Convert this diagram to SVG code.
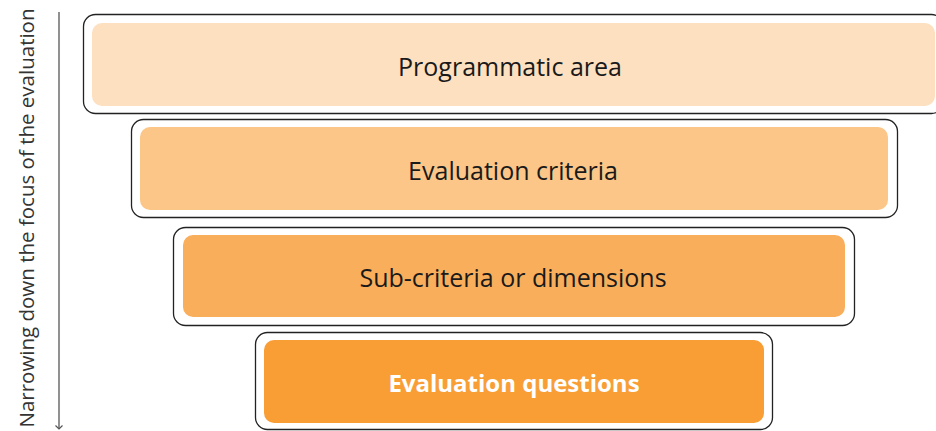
<svg xmlns="http://www.w3.org/2000/svg" width="936" height="431" viewBox="0 0 936 431">
<style>
.outer{fill:#fff;stroke:#222;stroke-width:1.3}
.lbl{font-family:"Open Sans","Liberation Sans",sans-serif;font-size:25px;fill:#1a1a1a;text-anchor:middle;dominant-baseline:central}
.side{font-family:"Open Sans","Liberation Sans",sans-serif;font-size:20.5px;fill:#333;text-anchor:middle;dominant-baseline:central}
</style>
<g id="connectors">
<line x1="59" y1="12" x2="59" y2="429" stroke="#555" stroke-width="1.3"/>
<path d="M55.5,425.5 L59,429 L62.5,425.5" fill="none" stroke="#555" stroke-width="1.2"/>
</g>
<g id="side-label">
<text class="side" transform="translate(26,218) rotate(-90)">Narrowing down the focus of the evaluation</text>
</g>
<g id="n1">
<rect class="outer" x="83.5" y="14.5" width="860" height="99" rx="12"/>
<rect x="92" y="23" width="843" height="83" rx="10" fill="#FDE0BF"/>
<text class="lbl" x="510" y="66">Programmatic area</text>
</g>
<g id="n2">
<rect class="outer" x="131.5" y="119.5" width="766" height="98" rx="12"/>
<rect x="140" y="127" width="748" height="83" rx="10" fill="#FBC688"/>
<text class="lbl" x="513" y="170">Evaluation criteria</text>
</g>
<g id="n3">
<rect class="outer" x="173.5" y="227.5" width="681" height="98" rx="12"/>
<rect x="183" y="235" width="662" height="82" rx="10" fill="#F9AE5C"/>
<text class="lbl" x="513" y="277">Sub-criteria or dimensions</text>
</g>
<g id="n4">
<rect class="outer" x="255.5" y="332.5" width="517" height="97" rx="12"/>
<rect x="264" y="340" width="500" height="83" rx="10" fill="#F89E35"/>
<text class="lbl" x="514" y="382" style="fill:#fff;font-weight:bold;font-size:24px">Evaluation questions</text>
</g>
</svg>
